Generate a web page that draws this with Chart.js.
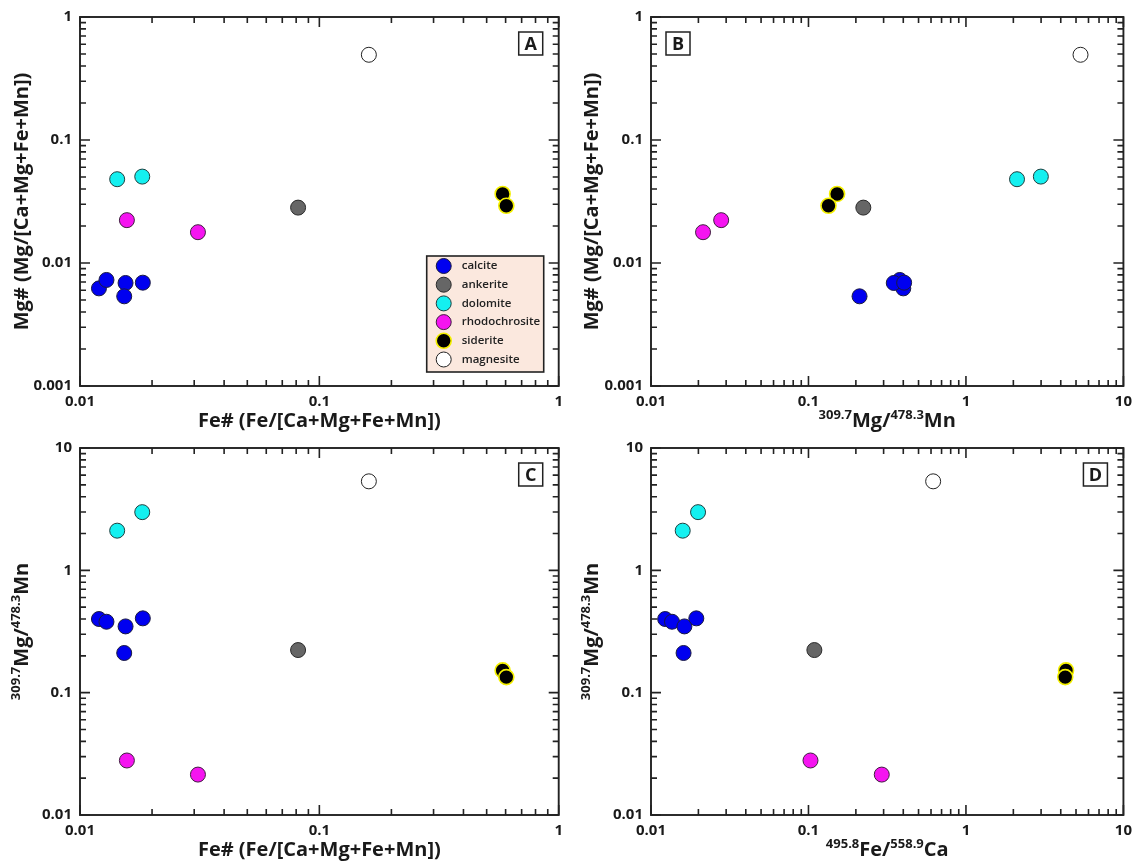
<!DOCTYPE html>
<html>
<head>
<meta charset="utf-8">
<script src="https://cdn.jsdelivr.net/npm/chart.js@4.4.1/dist/chart.umd.min.js"></script>
<style>
  body { margin: 0; background: #fff; }
  .panel { position: absolute; }
</style>
</head>
<body>
<canvas id="panelA" class="panel" width="570" height="445" style="left:0;top:0"></canvas>
<canvas id="panelB" class="panel" width="569" height="445" style="left:570px;top:0"></canvas>
<canvas id="panelC" class="panel" width="570" height="435" style="left:0;top:430px"></canvas>
<canvas id="panelD" class="panel" width="569" height="435" style="left:570px;top:430px"></canvas>
<script>
// one entry per analysed sample
const sampleMineral = ['calcite', 'calcite', 'calcite', 'calcite', 'calcite', 'ankerite',
  'dolomite', 'dolomite', 'rhodochrosite', 'rhodochrosite', 'siderite', 'siderite', 'magnesite'];
const feNumber = [0.0120, 0.0129, 0.0155, 0.0153, 0.0183, 0.0815, 0.0143, 0.0182, 0.0157, 0.0311, 0.583, 0.604, 0.161];
const mgNumber = [0.00622, 0.00728, 0.00688, 0.00536, 0.00692, 0.0282, 0.0480, 0.0504, 0.0223, 0.0178, 0.0364, 0.0292, 0.493];
const mgMnRatio = [0.400, 0.380, 0.348, 0.211, 0.405, 0.223, 2.11, 2.99, 0.0279, 0.0214, 0.152, 0.134, 5.34];
const feCaRatio = [0.0123, 0.0136, 0.0163, 0.0161, 0.0194, 0.109, 0.0159, 0.0199, 0.103, 0.292, 4.32, 4.27, 0.619];

const minerals = ['calcite', 'ankerite', 'dolomite', 'rhodochrosite', 'siderite', 'magnesite'];
const fillColors = ['#0000f0', '#666666', '#14f0f0', '#f514f0', '#000000', '#ffffff'];
const edgeColors = ['#1a1a40', '#2a2a2a', '#1f3f3f', '#3f1f3f', '#f4f000', '#222222'];
const edgeWidths = [1, 1, 1, 1, 1.6, 1];

const FONT = '"Open Sans", "DejaVu Sans", sans-serif';
const feTitle = [['Fe# (Fe/[Ca+Mg+Fe+Mn])', false]];
const mgTitle = [['Mg# (Mg/[Ca+Mg+Fe+Mn])', false]];
const mgMnTitle = [['309.7', true], ['Mg/', false], ['478.3', true], ['Mn', false]];
const feCaTitle = [['495.8', true], ['Fe/', false], ['558.9', true], ['Ca', false]];

function buildDatasets(xs, ys) {
  return minerals.map((m, k) => ({
    label: m,
    data: sampleMineral.map((s, i) => (s === m ? { x: xs[i], y: ys[i] } : null)).filter(Boolean),
    backgroundColor: fillColors[k],
    borderColor: edgeColors[k],
    borderWidth: edgeWidths[k],
    pointRadius: 7.5,
    pointHoverRadius: 7.5
  }));
}

function drawRich(ctx, parts, cx, cy, vertical) {
  const main = 'bold 20px ' + FONT, sup = 'bold 13px ' + FONT;
  let total = 0;
  parts.forEach(p => { ctx.font = p[1] ? sup : main; total += ctx.measureText(p[0]).width; });
  ctx.save();
  ctx.translate(cx, cy);
  if (vertical) ctx.rotate(-Math.PI / 2);
  ctx.textAlign = 'left';
  ctx.textBaseline = 'alphabetic';
  ctx.fillStyle = '#1a1a1a';
  let x = -total / 2;
  parts.forEach(p => {
    ctx.font = p[1] ? sup : main;
    ctx.fillText(p[0], x, p[1] ? -1 : 7);
    x += ctx.measureText(p[0]).width;
  });
  ctx.restore();
}

function logSteps(scale) {
  const out = [];
  const lo = Math.floor(Math.log10(scale.min)), hi = Math.ceil(Math.log10(scale.max));
  for (let e = lo; e <= hi; e++) {
    for (let s = 1; s <= 9; s++) {
      const v = s * Math.pow(10, e);
      if (v >= scale.min * 0.999 && v <= scale.max * 1.001) out.push({ px: scale.getPixelForValue(v), major: s === 1 });
    }
  }
  return out;
}

const decor = {
  id: 'decor',
  afterDraw(chart, args, opts) {
    const ctx = chart.ctx, a = chart.chartArea;
    const xs = chart.scales.x, ys = chart.scales.y;
    ctx.save();
    ctx.strokeStyle = '#222';
    ctx.lineWidth = 1.6;
    ctx.beginPath();
    logSteps(xs).forEach(t => {
      const len = t.major ? 10 : 6;
      ctx.moveTo(t.px, a.bottom); ctx.lineTo(t.px, a.bottom - len);
      ctx.moveTo(t.px, a.top); ctx.lineTo(t.px, a.top + len);
    });
    logSteps(ys).forEach(t => {
      const len = t.major ? 10 : 6;
      ctx.moveTo(a.left, t.px); ctx.lineTo(a.left + len, t.px);
      ctx.moveTo(a.right, t.px); ctx.lineTo(a.right - len, t.px);
    });
    ctx.stroke();
    ctx.lineWidth = 1.9;
    ctx.strokeRect(a.left, a.top, a.right - a.left, a.bottom - a.top);

    // panel letter
    const bx = opts.letterSide === 'left' ? a.left + 15 : a.right - 40;
    const by = a.top + 15;
    ctx.fillStyle = '#fff';
    ctx.fillRect(bx, by, 24, 23);
    ctx.lineWidth = 1.5;
    ctx.strokeRect(bx, by, 24, 23);
    ctx.fillStyle = '#1a1a1a';
    ctx.font = 'bold 18px ' + FONT;
    ctx.textAlign = 'center';
    ctx.textBaseline = 'middle';
    ctx.fillText(opts.letter, bx + 12, by + 12.5);
    ctx.restore();

    drawRich(ctx, opts.xTitle, (a.left + a.right) / 2, a.bottom + 34, false);
    drawRich(ctx, opts.yTitle, 21, (a.top + a.bottom) / 2, true);

    if (opts.legend) {
      const w = 117, h = 116;
      const lx = a.right - 15 - w, ly = a.bottom - 14 - h;
      ctx.save();
      ctx.fillStyle = '#fbe8de';
      ctx.fillRect(lx, ly, w, h);
      ctx.strokeStyle = '#222';
      ctx.lineWidth = 1.6;
      ctx.strokeRect(lx, ly, w, h);
      chart.data.datasets.forEach((ds, k) => {
        const cy = ly + 10 + k * 18.7;
        ctx.beginPath();
        ctx.arc(lx + 17, cy, 7.5, 0, Math.PI * 2);
        ctx.fillStyle = ds.backgroundColor;
        ctx.fill();
        ctx.lineWidth = ds.borderWidth;
        ctx.strokeStyle = ds.borderColor;
        ctx.stroke();
        ctx.fillStyle = '#222';
        ctx.font = '600 11.5px ' + FONT;
        ctx.textAlign = 'left';
        ctx.textBaseline = 'middle';
        ctx.fillText(ds.label, lx + 35, cy);
      });
      ctx.restore();
    }
  }
};

function majorOnly(v) {
  const l = Math.log10(v);
  return Math.abs(l - Math.round(l)) < 1e-6 ? String(Number(v.toPrecision(3))) : '';
}

function makePanel(id, xs, ys, xMax, yMin, yMax, axisH, pad, decorOpts) {
  new Chart(document.getElementById(id), {
    type: 'scatter',
    data: { datasets: buildDatasets(xs, ys) },
    options: {
      responsive: false,
      animation: false,
      layout: { padding: pad },
      plugins: { legend: { display: false }, tooltip: { enabled: false }, decor: decorOpts },
      scales: {
        x: {
          type: 'logarithmic', min: 0.01, max: xMax,
          grid: { display: false, drawTicks: false }, border: { display: false },
          ticks: { callback: majorOnly, autoSkip: false, maxRotation: 0, padding: 7,
            color: '#1a1a1a', font: { family: FONT, size: 15, weight: 'bold' } },
          afterFit: s => { s.height = axisH; }
        },
        y: {
          type: 'logarithmic', min: yMin, max: yMax,
          grid: { display: false, drawTicks: false }, border: { display: false },
          ticks: { callback: majorOnly, autoSkip: false, padding: 8,
            color: '#1a1a1a', font: { family: FONT, size: 15, weight: 'bold' } },
          afterFit: s => { s.width = 80; }
        }
      }
    },
    plugins: [decor]
  });
}

makePanel('panelA', feNumber, mgNumber, 1, 0.001, 1, 59, { left: 0, right: 11, top: 17, bottom: 0 },
  { letter: 'A', letterSide: 'right', xTitle: feTitle, yTitle: mgTitle, legend: true });
makePanel('panelB', mgMnRatio, mgNumber, 10, 0.001, 1, 59, { left: 1, right: 10, top: 17, bottom: 0 },
  { letter: 'B', letterSide: 'left', xTitle: mgMnTitle, yTitle: mgTitle, legend: false });
makePanel('panelC', feNumber, mgMnRatio, 1, 0.01, 10, 50, { left: 0, right: 11, top: 18, bottom: 0 },
  { letter: 'C', letterSide: 'right', xTitle: feTitle, yTitle: mgMnTitle, legend: false });
makePanel('panelD', feCaRatio, mgMnRatio, 10, 0.01, 10, 50, { left: 1, right: 10, top: 18, bottom: 0 },
  { letter: 'D', letterSide: 'right', xTitle: feCaTitle, yTitle: mgMnTitle, legend: false });
</script>
</body>
</html>
